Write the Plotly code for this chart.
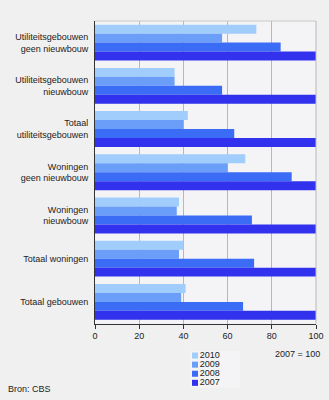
import plotly.graph_objects as go

# Categories, top to bottom
categories = [
    "Utiliteitsgebouwen<br>geen nieuwbouw",
    "Utiliteitsgebouwen<br>nieuwbouw",
    "Totaal<br>utiliteitsgebouwen",
    "Woningen<br>geen nieuwbouw",
    "Woningen<br>nieuwbouw",
    "Totaal woningen",
    "Totaal gebouwen",
]

years = ["2010", "2009", "2008", "2007"]

# Index, 2007 = 100
values_2010 = [73, 36, 42, 68, 38, 40, 41]
values_2009 = [57.5, 36, 40, 60, 37, 38, 39]
values_2008 = [84, 57.5, 63, 89, 71, 72, 67]
values_2007 = [100, 100, 100, 100, 100, 100, 100]
series = [values_2010, values_2009, values_2008, values_2007]

colors = ["#a0cdfb", "#6a9ef9", "#3a6cf6", "#3232ee"]

font_family = "Liberation Sans, Arial, sans-serif"
text_color = "#222222"

fig = go.Figure()

for year, vals, col in zip(years, series, colors):
    fig.add_trace(go.Bar(
        y=categories,
        x=vals,
        name=year,
        orientation="h",
        marker=dict(color=col, line=dict(width=0)),
        showlegend=False,
        hoverinfo="x+name",
    ))

# Compact legend drawn on its own small hidden axes
fig.add_trace(go.Scatter(
    x=[0.1] * len(years),
    y=list(range(len(years))),
    mode="markers+text",
    text=years,
    textposition="middle right",
    textfont=dict(family=font_family, size=9, color=text_color),
    marker=dict(symbol="square", size=6, color=colors, line=dict(width=0)),
    xaxis="x2",
    yaxis="y2",
    showlegend=False,
    hoverinfo="skip",
    cliponaxis=False,
))

fig.update_layout(
    width=329,
    height=400,
    autosize=False,
    margin=dict(l=95, r=13, t=21, b=10, autoexpand=False),
    paper_bgcolor="#f0f0f0",
    plot_bgcolor="#f4f4f7",
    barmode="group",
    bargap=0.17,
    bargroupgap=0,
    font=dict(family=font_family, size=9, color=text_color),
    xaxis=dict(
        range=[0, 100],
        tickvals=[0, 20, 40, 60, 80, 100],
        showgrid=True,
        gridcolor="#b8b8b8",
        gridwidth=1,
        showline=True,
        linecolor="#333333",
        linewidth=1,
        ticks="outside",
        ticklen=4,
        tickcolor="#333333",
        zeroline=False,
        automargin=False,
        tickfont=dict(size=9),
        fixedrange=True,
    ),
    yaxis=dict(
        domain=[0.1802, 1],
        autorange="reversed",
        showgrid=False,
        showline=True,
        linecolor="#333333",
        linewidth=1,
        ticks="",
        ticklabelstandoff=4,
        automargin=False,
        tickfont=dict(size=9),
        fixedrange=True,
    ),
    xaxis2=dict(
        domain=[0.4299, 0.6561],
        range=[0, 1],
        anchor="y2",
        visible=False,
        automargin=False,
        fixedrange=True,
    ),
    yaxis2=dict(
        domain=[0.00705, 0.1057],
        range=[3.5, -0.5],
        anchor="x2",
        visible=False,
        automargin=False,
        fixedrange=True,
    ),
    shapes=[
        # light frame lines along the top and right of the plot area
        dict(type="line", xref="x domain", yref="y domain",
             x0=0, x1=1, y0=1, y1=1,
             line=dict(color="#c8c8c8", width=1)),
        dict(type="line", xref="x domain", yref="y domain",
             x0=1, x1=1, y0=0, y1=1,
             line=dict(color="#b8b8b8", width=1)),
    ],
    annotations=[
        dict(text="2007 = 100", xref="paper", yref="paper",
             x=1.0271, y=0.0976, xanchor="right", yanchor="middle",
             showarrow=False, font=dict(size=9, color=text_color)),
        dict(text="Bron: CBS", xref="paper", yref="paper",
             x=-0.4027, y=0.0027, xanchor="left", yanchor="middle",
             showarrow=False, font=dict(size=9, color=text_color)),
    ],
)

fig.write_html("out.html")
